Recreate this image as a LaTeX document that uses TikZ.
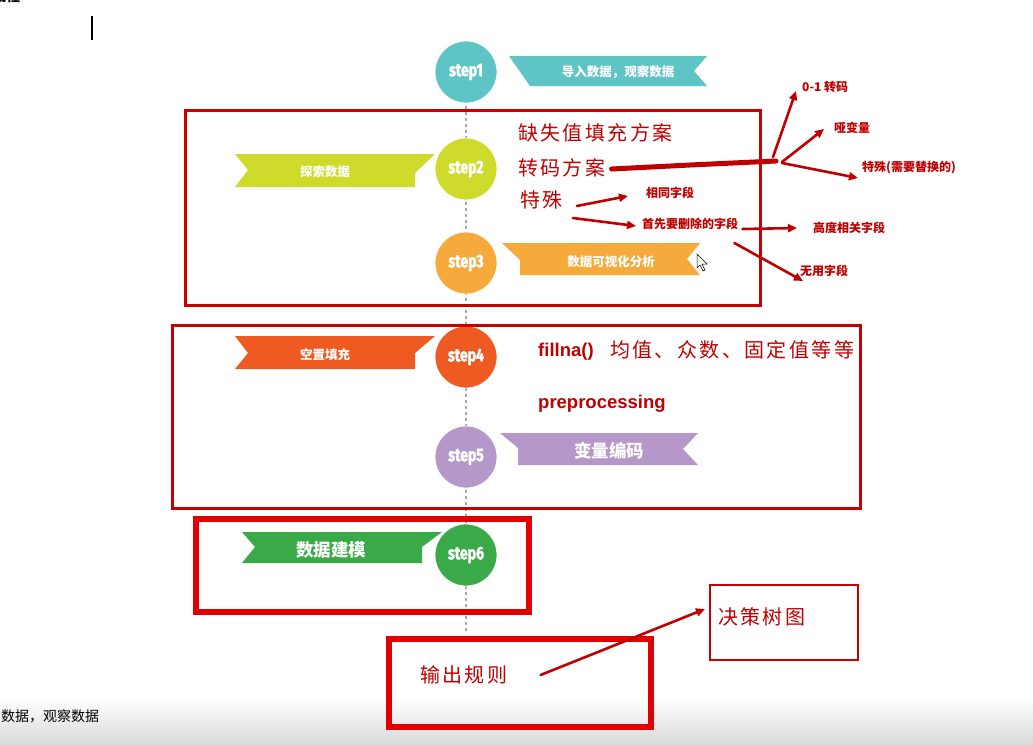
\documentclass[tikz,border=0pt]{standalone}
\usepackage{fontspec}
\usepackage{graphicx}
\setmainfont{Liberation Sans}
\newfontfamily\cjk{Noto Sans CJK SC}
\newfontfamily\cjkls[LetterSpace=12]{Noto Sans CJK SC}
\newfontfamily\stepfont[BoldFeatures={FakeBold=2.5}]{Fira Sans}
\usetikzlibrary{arrows.meta,calc}
\definecolor{annred}{HTML}{C00000}
\definecolor{boxred}{HTML}{C80000}
\definecolor{brightred}{HTML}{E00000}
\definecolor{cone}{HTML}{5EC4C6}
\definecolor{ctwo}{HTML}{CFDB2A}
\definecolor{cthree}{HTML}{F7AA3C}
\definecolor{cfour}{HTML}{EE5A22}
\definecolor{cfive}{HTML}{B598C9}
\definecolor{csix}{HTML}{3AAA48}
\tikzset{
  stepcircle/.style={circle, minimum size=62pt, inner sep=0pt, draw=white, line width=0.8pt,
    text=white, font=\stepfont\bfseries\fontsize{18}{18}\selectfont},
  ribtext/.style={text=white, inner sep=1pt, font=\cjk\bfseries\fontsize{12.5}{13}\selectfont},
  bigribtext/.style={text=white, inner sep=1pt, font=\cjk\bfseries\fontsize{17.5}{18}\selectfont},
  bignote/.style={anchor=west, inner sep=0pt, text=annred, font=\cjkls\fontsize{20}{22}\selectfont},
  smallnote/.style={anchor=west, inner sep=0pt, text=annred, font=\cjk\bfseries\fontsize{12}{13}\selectfont},
  sansnote/.style={anchor=west, inner sep=0pt, text=annred, font=\bfseries\fontsize{18.5}{20}\selectfont},
  redbox/.style={draw=boxred, line width=3pt},
  heavybox/.style={draw=brightred, line width=6pt},
  annarrow/.style={draw=annred, line width=2.6pt, line cap=round, -{Triangle[length=9pt,width=8pt]}},
  timeline/.style={draw=gray!70, dashed, line width=1.2pt}
}
\begin{document}
\begin{tikzpicture}[x=1pt,y=-1pt]
\useasboundingbox (0,0) rectangle (1033,745);
\fill[white] (0,0) rectangle (1033,745);
% bottom band of the screenshot
\shade[top color=white, bottom color=gray!30] (0,698) rectangle (1033,745);
\node[anchor=west, inner sep=0pt, font=\cjk\fontsize{14}{15}\selectfont] (bottomtext) at (1,716) {数据，观察数据};
\node[anchor=west, inner sep=0pt, font=\cjk\bfseries\fontsize{14}{15}\selectfont] (toptext) at (-8,-4) {流程};
\coordinate (cursortop) at (92,16);
\coordinate (cursorbot) at (92,40);
\draw[line width=1.6pt] (cursortop) -- (cursorbot);

% timeline
\coordinate (tltop) at (466,100);
\coordinate (tlbot) at (466,632);
\draw[timeline] (tltop) -- (tlbot);

% ribbons
\fill[cone] (509,56) -- (707,56) -- (694,71) -- (707,86) -- (530,86) -- cycle;
\fill[ctwo] (235,154) -- (435,154) -- (415,173) -- (415,187) -- (235,187) -- (248,170) -- cycle;
\fill[cthree] (502,243) -- (700,243) -- (687,259) -- (700,275) -- (520,275) -- (520,260) -- cycle;
\fill[cfour] (235,336) -- (435,336) -- (415,353) -- (415,369) -- (235,369) -- (248,353) -- cycle;
\fill[cfive] (500,433) -- (698,433) -- (683,449) -- (698,465) -- (518,465) -- (518,448) -- cycle;
\fill[csix] (242,532) -- (442,532) -- (422,547) -- (422,563) -- (242,563) -- (255,547) -- cycle;

\node[ribtext] (r1) at (618,72) {导入数据，观察数据};
\node[ribtext] (r2) at (325,172) {探索数据};
\node[ribtext] (r3) at (611,262) {数据可视化分析};
\node[ribtext] (r4) at (325,355) {空置填充};
\node[bigribtext] (r5) at (609,451) {变量编码};
\node[bigribtext] (r6) at (331,550) {数据建模};

% step circles
\node[stepcircle, fill=cone] (s1) at (466,72) {\scalebox{0.78}[1]{step1}};
\node[stepcircle, fill=ctwo] (s2) at (466,169) {\scalebox{0.78}[1]{step2}};
\node[stepcircle, fill=cthree] (s3) at (466,263) {\scalebox{0.78}[1]{step3}};
\node[stepcircle, fill=cfour] (s4) at (466,357) {\scalebox{0.78}[1]{step4}};
\node[stepcircle, fill=cfive] (s5) at (466,457) {\scalebox{0.78}[1]{step5}};
\node[stepcircle, fill=csix] (s6) at (466,555) {\scalebox{0.78}[1]{step6}};

% red boxes
\draw[redbox] (185,110) rectangle (760,305);
\draw[redbox] (172,325) rectangle (860,508);
\draw[heavybox] (196,519) rectangle (529,612);
\draw[heavybox] (389,639) rectangle (651,727);
\draw[redbox, line width=2.5pt] (710,585) rectangle (858,660);

% annotations in step2/3 box
\node[bignote] (queshi) at (518,133) {缺失值填充方案};
\node[bignote] (zhuanma) at (518,168) {转码方案};
\node[bignote] (teshu) at (520,200) {特殊};
\node[smallnote] (zeroone) at (802,87) {0-1 转码};
\node[smallnote] (yabian) at (834,128) {哑变量};
\node[smallnote] (teshuti) at (862,168) {特殊(需要替换的)};
\node[smallnote] (xiangtong) at (646,193) {相同字段};
\node[smallnote] (shanchu) at (642,224) {首先要删除的字段};
\node[smallnote] (gaodu) at (813,228) {高度相关字段};
\node[smallnote] (wuyong) at (800,271) {无用字段};

\coordinate (hub) at (776,161);
\draw[annred, line width=5pt, line cap=round] ($(zhuanma.east)+(6,1)$) -- (690,165) -- (hub);
\draw[annarrow] ($(hub)+(-3,-4)$) -- ($(zeroone.west)+(-6,4)$);
\draw[annarrow] ($(hub)+(6,1)$) -- ($(yabian.west)+(-10,1)$);
\draw[annarrow] ($(hub)+(6,2)$) -- ($(teshuti.west)+(-4,10)$);
\draw[annarrow] ($(teshu.east)+(14,6)$) -- ($(xiangtong.west)+(-18,3)$);
\draw[annarrow] ($(teshu.east)+(10,18)$) -- ($(shanchu.west)+(-6,2)$);
\draw[annarrow] ($(shanchu.east)+(4,5)$) -- ($(gaodu.west)+(-16,0)$);
\draw[annarrow] ($(shanchu.east)+(-4,19)$) -- ($(wuyong.west)+(3,10)$);

% mouse cursor
\draw[black, fill=white, line width=0.5pt] (697,254) -- (697,268) -- (700,265) -- (703,271) -- (705,270) -- (702,264) -- (707,264) -- cycle;

% step4/5 box annotations
\node[sansnote] (fillna) at (538,352) {fillna()};
\node[bignote] (junzhi) at (610,350) {均值、众数、固定值等等};
\node[sansnote] (prep) at (538,404) {preprocessing};

% output
\node[bignote] (juece) at (718,617) {决策树图};
\node[bignote] (shuchu) at (420,675) {输出规则};
\draw[annarrow] ($(shuchu.east)+(33,0)$) -- ($(juece.west)+(-13,-8)$);
\end{tikzpicture}
\end{document}
